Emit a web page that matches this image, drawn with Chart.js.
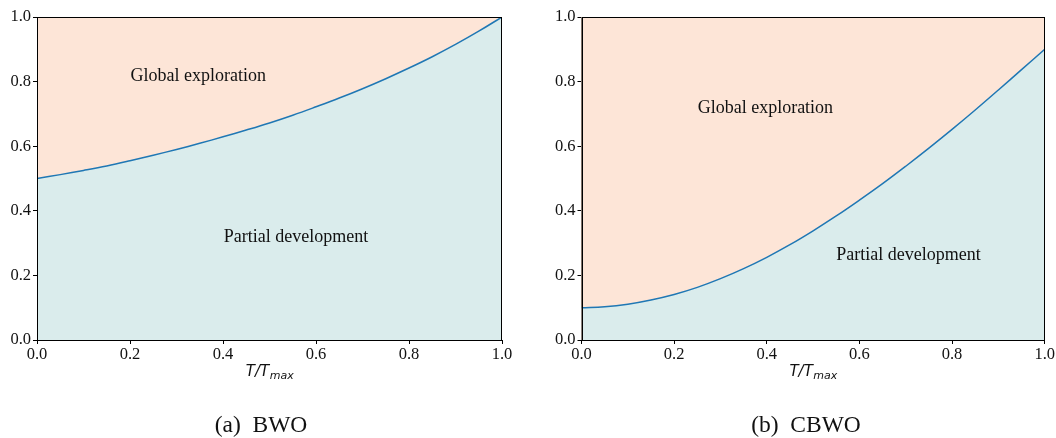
<!DOCTYPE html>
<html>
<head>
<meta charset="utf-8">
<script src="https://cdn.jsdelivr.net/npm/chart.js"></script>
<style>
  html, body { margin: 0; padding: 0; background: #fff; }
  #wrap { position: relative; width: 1056px; height: 438px; }
  .panel { position: absolute; top: 0; width: 528px; height: 438px; }
</style>
</head>
<body>
<div id="wrap">
  <div class="panel" style="left:0"><canvas id="bwo"></canvas></div>
  <div class="panel" style="left:528px"><canvas id="cbwo"></canvas></div>
</div>
<script>
// values
const tValues = [0, 0.05, 0.1, 0.15, 0.2, 0.25, 0.3, 0.35, 0.4, 0.45, 0.5,
                 0.55, 0.6, 0.65, 0.7, 0.75, 0.8, 0.85, 0.9, 0.95, 1.0];
const bwoValues = [0.5, 0.512, 0.525, 0.539, 0.555, 0.572, 0.59, 0.609, 0.629, 0.65, 0.672,
                   0.696, 0.722, 0.749, 0.778, 0.809, 0.842, 0.877, 0.915, 0.956, 1.0];
const cbwoValues = [0.1, 0.103, 0.111, 0.124, 0.141, 0.163, 0.19, 0.221, 0.256, 0.295, 0.338,
                    0.384, 0.433, 0.484, 0.538, 0.594, 0.652, 0.712, 0.774, 0.837, 0.9];
const tickValues = [0, 0.2, 0.4, 0.6, 0.8, 1.0];

const upperColor = '#fde5d7';
const lowerColor = '#daecec';
const lineColor = '#1f77b4';
const serif = '"Liberation Serif", "Times New Roman", serif';

// draws the orange region, frame, axis title, captions and region labels
const decorPlugin = {
    id: 'decor',
    beforeDatasetsDraw(chart) {
        const a = chart.chartArea, ctx = chart.ctx;
        ctx.save();
        ctx.fillStyle = upperColor;
        ctx.fillRect(a.left, a.top, a.right - a.left, a.bottom - a.top);
        ctx.restore();
    },
    afterDraw(chart, args, opts) {
        const a = chart.chartArea, ctx = chart.ctx;
        const xs = chart.scales.x, ys = chart.scales.y;
        ctx.save();
        ctx.strokeStyle = '#000';
        ctx.lineWidth = 1;
        ctx.strokeRect(Math.round(a.left) + 0.5, Math.round(a.top) + 0.5,
                       Math.round(a.right - a.left) - 1, Math.round(a.bottom - a.top));

        // region labels
        ctx.fillStyle = '#111';
        ctx.font = '18px ' + serif;
        ctx.textAlign = 'center';
        ctx.textBaseline = 'middle';
        opts.labels.forEach(l => {
            ctx.fillText(l.text, xs.getPixelForValue(l.x), ys.getPixelForValue(l.y));
        });

        // x-axis title T/T_max
        const cx = (a.left + a.right) / 2;
        ctx.textBaseline = 'alphabetic';
        ctx.textAlign = 'left';
        ctx.font = 'italic 15px "DejaVu Sans"';
        const main = 'T/T';
        const wMain = ctx.measureText(main).width;
        ctx.font = 'italic 11px "DejaVu Sans"';
        const wSub = ctx.measureText('max').width;
        const x0 = cx - (wMain + wSub) / 2;
        ctx.font = 'italic 15px "DejaVu Sans"';
        ctx.fillText(main, x0, 376);
        ctx.font = 'italic 11px "DejaVu Sans"';
        ctx.fillText('max', x0 + wMain + 0.5, 379);

        // caption
        ctx.font = '23.5px ' + serif;
        ctx.textAlign = 'center';
        ctx.fillText(opts.caption, opts.captionX, 432);
        ctx.restore();
    }
};

function makeChart(id, values, padLeft, padRight, labels, caption, captionX) {
    return new Chart(document.getElementById(id), {
        type: 'line',
        data: {
            datasets: [{
                data: tValues.map((t, i) => ({ x: t, y: values[i] })),
                borderColor: lineColor,
                borderWidth: 1.5,
                backgroundColor: lowerColor,
                fill: 'origin',
                pointRadius: 0,
                tension: 0.4
            }]
        },
        options: {
            responsive: true,
            maintainAspectRatio: false,
            animation: false,
            layout: { padding: { left: padLeft, right: padRight, top: 17, bottom: 0 } },
            plugins: {
                legend: { display: false },
                tooltip: { enabled: false },
                decor: { labels: labels, caption: caption, captionX: captionX }
            },
            scales: {
                x: {
                    type: 'linear',
                    min: 0, max: 1,
                    afterFit: s => { s.height = 98; },
                    afterBuildTicks: s => { s.ticks = tickValues.map(v => ({ value: v })); },
                    grid: { drawOnChartArea: false, drawTicks: true, tickLength: 4, tickColor: '#000' },
                    border: { display: true, color: '#000', width: 1 },
                    ticks: {
                        color: '#111', padding: 1, maxRotation: 0,
                        font: { family: serif, size: 16.5 },
                        callback: v => v.toFixed(1)
                    }
                },
                y: {
                    min: 0, max: 1,
                    afterFit: s => { s.width = 37; },
                    afterBuildTicks: s => { s.ticks = tickValues.map(v => ({ value: v })); },
                    grid: { drawOnChartArea: false, drawTicks: true, tickLength: 4, tickColor: '#000' },
                    border: { display: true, color: '#000', width: 1 },
                    ticks: {
                        color: '#111', padding: 2,
                        font: { family: serif, size: 16.5 },
                        callback: v => v.toFixed(1)
                    }
                }
            }
        },
        plugins: [decorPlugin]
    });
}

makeChart('bwo', bwoValues, 0, 26,
    [{ text: 'Global exploration', x: 0.347, y: 0.815 },
     { text: 'Partial development', x: 0.557, y: 0.318 }],
    '(a)  BWO', 261);
makeChart('cbwo', cbwoValues, 16.5, 10.5,
    [{ text: 'Global exploration', x: 0.397, y: 0.716 },
     { text: 'Partial development', x: 0.706, y: 0.263 }],
    '(b)  CBWO', 278);
</script>
</body>
</html>
